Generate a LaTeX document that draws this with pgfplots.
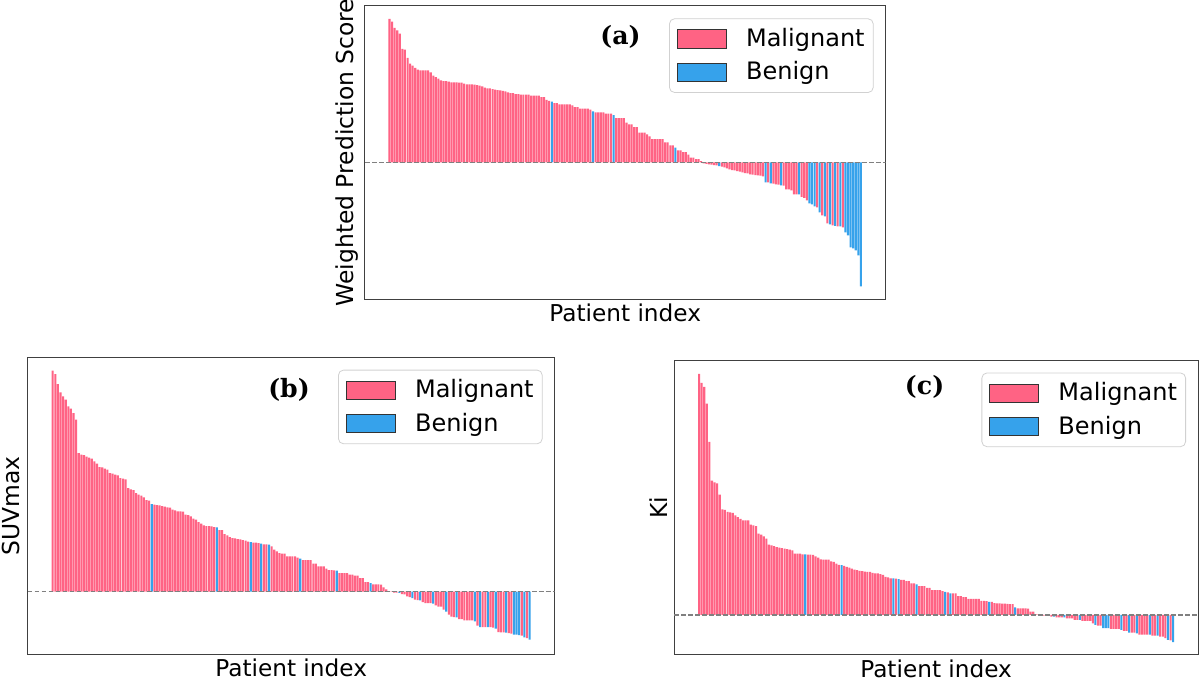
\documentclass[border=0pt]{standalone}
\usepackage{fontspec}
\setmainfont{DejaVu Sans}
\newfontfamily\panelfont{DejaVu Serif}
\usepackage{pgfplots}
\usepackage{pgfplotstable}
\pgfplotsset{compat=1.18}
\definecolor{malig}{RGB}{255,99,132}
\definecolor{benig}{RGB}{54,162,235}

\pgfplotstableread[row sep=\\]{
i v b\\
0 143.3 0\\ 1 140.7 0\\ 2 134.3 0\\ 3 132 0\\ 4 128.7 0\\ 5 113.3 0\\ 6 112.7 0\\ 7 104.3 0\\ 8 98.7 0\\ 9 96.7 0\\
10 94.3 0\\ 11 92.7 0\\ 12 92 0\\ 13 92 0\\ 14 92 0\\ 15 92 0\\ 16 90 0\\ 17 86.7 0\\ 18 85.3 0\\ 19 83.7 0\\
20 82 0\\ 21 81.3 0\\ 22 81.3 0\\ 23 80.7 0\\ 24 80 0\\ 25 80 0\\ 26 80 0\\ 27 79.7 0\\ 28 79.7 0\\ 29 78.7 0\\
30 78 0\\ 31 78 0\\ 32 78 0\\ 33 77.7 0\\ 34 77.3 0\\ 35 76.7 0\\ 36 76 0\\ 37 74.7 0\\ 38 74 0\\ 39 74 0\\
40 73.3 0\\ 41 72.7 0\\ 42 72.3 0\\ 43 72 0\\ 44 71.5 0\\ 45 71 0\\ 46 70 0\\ 47 69.3 0\\ 48 69.3 0\\ 49 68.3 0\\
50 68.3 0\\ 51 67.7 0\\ 52 67.7 0\\ 53 67.7 0\\ 54 67.7 0\\ 55 66.7 0\\ 56 66.7 0\\ 57 66.7 0\\ 58 66.7 0\\ 59 65.3 0\\
60 65.3 0\\ 61 62.5 0\\ 62 61.5 0\\ 63 60.7 1\\ 64 59.3 0\\ 65 59.3 0\\ 66 58 0\\ 67 58 0\\ 68 58 0\\ 69 58 0\\
70 58 0\\ 71 57 0\\ 72 55.3 0\\ 73 55.3 0\\ 74 53.7 0\\ 75 53.7 0\\ 76 53.7 0\\ 77 53.7 0\\ 78 52.7 0\\ 79 51 1\\
80 50 0\\ 81 50 0\\ 82 50 0\\ 83 50 0\\ 84 48.7 0\\ 85 48.7 0\\ 86 48.7 0\\ 87 47.3 1\\ 88 44.3 0\\ 89 44.3 0\\
90 44.3 0\\ 91 44.3 0\\ 92 39.7 0\\ 93 38 0\\ 94 38 0\\ 95 35.3 0\\ 96 35.3 0\\ 97 29.7 0\\ 98 29.7 0\\ 99 29.7 0\\
100 28 0\\ 101 26 0\\ 102 23.3 0\\ 103 23.3 0\\ 104 23.3 0\\ 105 23.3 0\\ 106 23.3 0\\ 107 20 0\\ 108 20 0\\ 109 17 0\\
110 17 0\\ 111 14.7 1\\ 112 12 0\\ 113 12 0\\ 114 10.3 0\\ 115 10.3 0\\ 116 7.7 0\\ 117 4.7 0\\ 118 4.7 0\\ 119 3.3 0\\
120 3.3 0\\ 121 1.3 0\\ 122 -1 0\\ 123 -1.5 0\\ 124 -2 0\\ 125 -2.3 0\\ 126 -2.7 0\\ 127 -3 0\\ 128 -3.7 1\\ 129 -4.3 0\\
130 -5 0\\ 131 -6 0\\ 132 -7 0\\ 133 -7.7 0\\ 134 -8 0\\ 135 -8.7 0\\ 136 -9.3 0\\ 137 -10 0\\ 138 -10.7 0\\ 139 -11 0\\
140 -12 0\\ 141 -12.3 0\\ 142 -12.7 0\\ 143 -13 0\\ 144 -13.3 0\\ 145 -14 0\\ 146 -20 1\\ 147 -20 0\\ 148 -21 1\\ 149 -21.3 0\\
150 -22 0\\ 151 -22.3 0\\ 152 -23 1\\ 153 -23.3 0\\ 154 -27 0\\ 155 -27 0\\ 156 -28 0\\ 157 -32 0\\ 158 -32 0\\ 159 -32 1\\
160 -34.5 0\\ 161 -35.5 0\\ 162 -38 0\\ 163 -41 1\\ 164 -42 1\\ 165 -44 1\\ 166 -45 0\\ 167 -50 1\\ 168 -53 0\\ 169 -54 1\\
170 -61 0\\ 171 -62 1\\ 172 -63 0\\ 173 -63.5 1\\ 174 -64 0\\ 175 -64 1\\ 176 -65 0\\ 177 -70 1\\ 178 -73 1\\ 179 -85 1\\
180 -86 1\\ 181 -88 1\\ 182 -93 1\\ 183 -124 1\\
}\tabA

\pgfplotstableread[row sep=\\]{
i v b\\
0 221 0\\ 1 217.7 0\\ 2 207.7 0\\ 3 199.3 0\\ 4 195.3 0\\ 5 192 0\\ 6 185.3 0\\ 7 183 0\\ 8 178.7 0\\ 9 172 0\\
10 138.7 0\\ 11 137 0\\ 12 136.7 0\\ 13 135 0\\ 14 134 0\\ 15 133 0\\ 16 130.3 0\\ 17 128 0\\ 18 124.7 0\\ 19 124.3 0\\
20 123 0\\ 21 122 0\\ 22 118.7 0\\ 23 118 0\\ 24 117 0\\ 25 116.3 0\\ 26 113.7 0\\ 27 113 0\\ 28 112.3 0\\ 29 103.7 0\\
30 102.3 0\\ 31 101.7 0\\ 32 98.7 0\\ 33 97 0\\ 34 96 0\\ 35 94.3 0\\ 36 91.7 0\\ 37 91 0\\ 38 87.7 1\\ 39 87 0\\
40 86.7 0\\ 41 86.3 0\\ 42 85.7 0\\ 43 85 0\\ 44 84.3 0\\ 45 84 0\\ 46 82 0\\ 47 81.3 0\\ 48 80.3 0\\ 49 80.3 0\\
50 80 0\\ 51 77 0\\ 52 76.7 0\\ 53 75.3 0\\ 54 73 0\\ 55 72 0\\ 56 69.7 0\\ 57 68 0\\ 58 66.3 0\\ 59 65.7 0\\
60 65.7 0\\ 61 65.3 0\\ 62 64.7 0\\ 63 64.3 1\\ 64 61.7 0\\ 65 61.7 0\\ 66 57.7 0\\ 67 56.3 0\\ 68 54.7 0\\ 69 53.7 0\\
70 53.3 0\\ 71 52.7 0\\ 72 52.3 0\\ 73 51.7 0\\ 74 51 0\\ 75 50 0\\ 76 49.7 1\\ 77 49 0\\ 78 49 0\\ 79 48.7 0\\
80 48 1\\ 81 47.3 0\\ 82 47.3 0\\ 83 47 1\\ 84 45.3 0\\ 85 42 0\\ 86 40.3 0\\ 87 38.7 0\\ 88 38 0\\ 89 38 0\\
90 35.3 0\\ 91 35.3 0\\ 92 35.3 0\\ 93 35.3 0\\ 94 34 0\\ 95 33 1\\ 96 31.5 0\\ 97 31.5 0\\ 98 31.5 0\\ 99 31.5 0\\
100 28 0\\ 101 28 0\\ 102 25.3 0\\ 103 25.3 0\\ 104 25.3 0\\ 105 23 0\\ 106 21.5 0\\ 107 21.5 0\\ 108 21.3 0\\ 109 21 1\\
110 18.7 0\\ 111 18.7 0\\ 112 18.7 0\\ 113 18.7 0\\ 114 17 0\\ 115 17 0\\ 116 16 0\\ 117 16 0\\ 118 13.7 0\\ 119 13.7 0\\
120 9.7 0\\ 121 9.7 0\\ 122 8.7 1\\ 123 7.3 0\\ 124 7.3 0\\ 125 7.3 0\\ 126 7 0\\ 127 4.3 0\\ 128 2.3 0\\ 129 0.7 0\\
130 0.3 0\\ 131 -1 0\\ 132 -1 0\\ 133 -1.2 1\\ 134 -2.5 0\\ 135 -2.7 0\\ 136 -4.7 0\\ 137 -5.5 0\\ 138 -6.3 1\\ 139 -8 0\\
140 -8.5 0\\ 141 -8.7 1\\ 142 -10.3 0\\ 143 -11.3 0\\ 144 -11.3 0\\ 145 -11.5 0\\ 146 -12 1\\ 147 -13.7 0\\ 148 -15 0\\ 149 -15 0\\
150 -18 0\\ 151 -20 1\\ 152 -23 0\\ 153 -25 0\\ 154 -25.3 0\\ 155 -25.7 1\\ 156 -27.3 0\\ 157 -27.3 0\\ 158 -28.7 0\\ 159 -28.7 0\\
160 -28.7 0\\ 161 -28.7 0\\ 162 -29.7 1\\ 163 -34 0\\ 164 -35.3 1\\ 165 -35.3 0\\ 166 -35.3 0\\ 167 -35.3 1\\ 168 -35.5 0\\ 169 -36 0\\
170 -37 1\\ 171 -40.3 0\\ 172 -40.7 0\\ 173 -40.7 0\\ 174 -41 1\\ 175 -41.3 0\\ 176 -42 0\\ 177 -43 1\\ 178 -43 1\\ 179 -43.3 1\\
180 -44 0\\ 181 -45.7 1\\ 182 -46.3 0\\ 183 -48 1\\
}\tabB

\pgfplotstableread[row sep=\\]{
i v b\\
0 242.3 0\\ 1 233.3 0\\ 2 229.3 0\\ 3 212.3 0\\ 4 174 0\\ 5 135 0\\ 6 133.3 0\\ 7 132.3 0\\ 8 121 0\\ 9 106 0\\
10 105.7 0\\ 11 103.7 0\\ 12 103 0\\ 13 102.7 0\\ 14 100 0\\ 15 98.3 0\\ 16 96.7 0\\ 17 95 0\\ 18 95 0\\ 19 95 0\\
20 90.7 0\\ 21 90 0\\ 22 89.3 0\\ 23 81.7 0\\ 24 80.7 0\\ 25 79 0\\ 26 76.7 0\\ 27 70.7 0\\ 28 70 0\\ 29 69.3 0\\
30 68.3 0\\ 31 67.7 0\\ 32 67.3 0\\ 33 66.7 0\\ 34 66.3 0\\ 35 65.7 0\\ 36 65 0\\ 37 61.7 0\\ 38 61.7 0\\ 39 61.7 0\\
40 61 0\\ 41 61 1\\ 42 60.7 0\\ 43 60.7 0\\ 44 60.3 0\\ 45 59 0\\ 46 57.7 0\\ 47 56 0\\ 48 55.7 0\\ 49 55.7 0\\
50 55.7 0\\ 51 54 0\\ 52 53.3 0\\ 53 51.7 0\\ 54 50.3 0\\ 55 50 1\\ 56 49.3 0\\ 57 48.3 0\\ 58 47.7 0\\ 59 46.7 0\\
60 45.7 0\\ 61 45 0\\ 62 44.3 0\\ 63 44 0\\ 64 43.7 0\\ 65 43.3 0\\ 66 43.3 0\\ 67 42.3 0\\ 68 41.7 0\\ 69 41.7 0\\
70 41 0\\ 71 40.3 0\\ 72 38.3 0\\ 73 37.7 0\\ 74 36.7 0\\ 75 36.7 1\\ 76 36.5 0\\ 77 36 1\\ 78 35.3 0\\ 79 35.3 0\\
80 34 0\\ 81 34 0\\ 82 31.7 0\\ 83 31.7 0\\ 84 30.7 1\\ 85 29 0\\ 86 29 0\\ 87 29 0\\ 88 27.3 0\\ 89 27.3 0\\
90 25 0\\ 91 25 0\\ 92 25 0\\ 93 25 0\\ 94 24 0\\ 95 23.3 1\\ 96 22.7 0\\ 97 21.7 1\\ 98 21.7 0\\ 99 21.7 0\\
100 19 0\\ 101 19 0\\ 102 18 0\\ 103 18 0\\ 104 16.3 0\\ 105 16.3 0\\ 106 16.3 0\\ 107 16.3 0\\ 108 16.3 0\\ 109 14.3 0\\
110 14.3 0\\ 111 14 0\\ 112 13.3 1\\ 113 13.3 0\\ 114 12 0\\ 115 11.8 0\\ 116 11.6 0\\ 117 11.4 0\\ 118 11.3 0\\ 119 11.1 0\\
120 11 0\\ 121 10.8 0\\ 122 7.7 1\\ 123 6.7 0\\ 124 6.7 0\\ 125 6.7 0\\ 126 6.7 0\\ 127 6.5 0\\ 128 3.3 0\\ 129 3.3 0\\
130 0.7 0\\ 131 0.7 0\\ 132 0.3 0\\ 133 -0.7 0\\ 134 -0.7 0\\ 135 -0.7 0\\ 136 -1.7 0\\ 137 -1.7 1\\ 138 -2.3 0\\ 139 -2.3 0\\
140 -2.3 0\\ 141 -2.3 1\\ 142 -3.3 0\\ 143 -3.3 0\\ 144 -3.3 0\\ 145 -5 0\\ 146 -5 0\\ 147 -5 1\\ 148 -6 0\\ 149 -6 0\\
150 -6 0\\ 151 -6 0\\ 152 -8.3 0\\ 153 -10 1\\ 154 -10.7 0\\ 155 -10.7 0\\ 156 -13.3 1\\ 157 -13.3 1\\ 158 -13.3 1\\ 159 -14 0\\
160 -14 0\\ 161 -14 0\\ 162 -14 0\\ 163 -15 1\\ 164 -16 0\\ 165 -16 0\\ 166 -17.7 1\\ 167 -17.7 0\\ 168 -17.7 0\\ 169 -18.5 1\\
170 -19.7 0\\ 171 -19.7 0\\ 172 -19.7 0\\ 173 -19.7 0\\ 174 -19.7 1\\ 175 -20.7 0\\ 176 -20.7 0\\ 177 -20.7 1\\ 178 -21.7 0\\ 179 -21.7 0\\
180 -23.3 0\\ 181 -25 1\\ 182 -25.5 0\\ 183 -27.3 1\\
}\tabC

\tikzset{plab/.style={font=\panelfont\bfseries\fontsize{12.6}{14}\selectfont}}

\pgfplotsset{
  mylegend/.style={legend image code/.code={\draw[##1,sharp corners,draw=black!80,line width=0.5pt] (0pt,-4.6pt) rectangle (24.5pt,4.6pt);}},
  wf/.style={
    scale only axis, anchor=south west,
    xmin=-9.59, xmax=192.59,
    ticks=none,
    axis line style={black!75, line width=0.5pt},
    xlabel={Patient index},
    every axis x label/.style={at={(axis description cs:0.5,0)}, anchor=center, yshift=-6.9pt, font=\fontsize{11.6}{13}\selectfont},
    legend style={at={(axis description cs:1,1)}, anchor=north east, xshift=-6pt, yshift=-6.2pt,
      draw=black!18, rounded corners=2.5pt, fill=white, font=\fontsize{12}{14}\selectfont,
      inner xsep=3.8pt, inner ysep=4.3pt, row sep=5pt, nodes={inner sep=0.5pt, sharp corners},
      /tikz/every odd column/.append style={column sep=9pt}},
    legend cell align=left,
  },
  ylab/.style 2 args={ylabel={#1}, every axis y label/.style={at={([xshift=#2]axis description cs:0,0.5)}, rotate=90, anchor=center, font=\fontsize{11.7}{13}\selectfont}},
  mbar/.style={ybar, bar width=0.8, bar shift=0pt, fill=malig, draw=none, restrict expr to domain={\thisrow{b}}{0:0}, mylegend},
  bbar/.style={ybar, bar width=0.8, bar shift=0pt, fill=benig, draw=none, restrict expr to domain={\thisrow{b}}{1:1}, mylegend},
  zline/.style={color=gray, dash pattern=on 2.4pt off 1.1pt, line width=0.7pt, forget plot},
}

\begin{document}
\begin{tikzpicture}
\begin{axis}[wf, at={(182.4pt,191.5pt)}, width=260.4pt, height=146.5pt, ymin=-136.7, ymax=156.3, ylab={Weighted Prediction Score}{-8.9pt}]
\addplot[mbar] table[x=i,y=v]{\tabA};
\addplot[bbar] table[x=i,y=v]{\tabA};
\addplot[zline] coordinates {(-9.59,0) (192.59,0)};
\legend{Malignant, Benign}
\node[plab] at (axis description cs:0.491,0.895) {(a)};
\end{axis}

\begin{axis}[wf, at={(13.85pt,14pt)}, width=263.45pt, height=148.35pt, ymin=-62.3, ymax=234.4, ylab={SUVmax}{-8.35pt}]
\addplot[mbar] table[x=i,y=v]{\tabB};
\addplot[bbar] table[x=i,y=v]{\tabB};
\addplot[zline] coordinates {(-9.59,0) (192.59,0)};
\legend{Malignant, Benign}
\node[plab] at (axis description cs:0.496,0.89) {(b)};
\end{axis}

\begin{axis}[wf, at={(337.1pt,13.6pt)}, width=261.9pt, height=147.3pt, ymin=-40, ymax=256, ylab={Ki}{-7.6pt}]
\addplot[mbar] table[x=i,y=v]{\tabC};
\addplot[bbar] table[x=i,y=v]{\tabC};
\addplot[zline] coordinates {(-9.59,0) (192.59,0)};
\legend{Malignant, Benign}
\node[plab] at (axis description cs:0.478,0.911) {(c)};
\end{axis}
\pgfresetboundingbox
\useasboundingbox (0,0) rectangle (600pt,341pt);
\end{tikzpicture}
\end{document}
